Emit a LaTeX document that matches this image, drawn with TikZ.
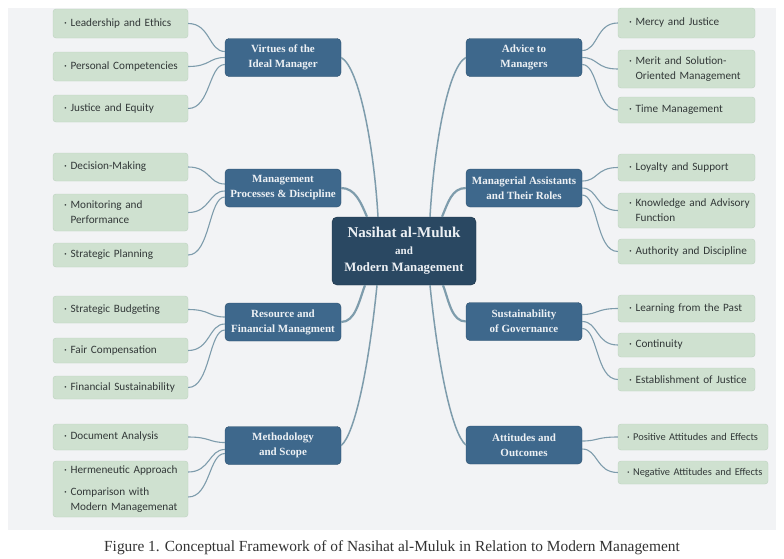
\documentclass[tikz,border=0pt]{standalone}
\usepackage{fontspec}
\setmainfont{Liberation Serif}
\newfontfamily\leaffont{Carlito}

\definecolor{panelgray}{RGB}{242,243,245}
\definecolor{leafgreen}{RGB}{207,225,208}
\definecolor{leafborder}{RGB}{189,210,191}
\definecolor{leaftext}{RGB}{50,56,56}
\definecolor{catblue}{RGB}{62,104,140}
\definecolor{catborder}{RGB}{44,80,110}
\definecolor{cattext}{RGB}{236,240,244}
\definecolor{hubblue}{RGB}{42,72,98}
\definecolor{hubborder}{RGB}{28,50,70}
\definecolor{linkgray}{RGB}{126,156,172}

% bullet and continuation line inside a leaf box
\newcommand{\leafbullet}{\hspace*{7pt}·\ }
\newcommand{\leafcont}{\hspace*{7pt}\phantom{·\ }}

\begin{document}
\begin{tikzpicture}[x=1pt, y=-1pt,
    leaf/.style={draw=leafborder, fill=leafgreen, rounded corners=3pt, text=leaftext,
      font={\leaffont\fontsize{11.2}{15}\selectfont\hyphenpenalty=10000},
      align=left, text width=#1, inner xsep=4pt, inner ysep=3pt, minimum height=26pt},
    leaf/.default=127pt,
    smallleaf/.style={leaf=#1, inner xsep=2pt,
      font={\leaffont\fontsize{10.4}{15}\selectfont\hyphenpenalty=10000}},
    cat/.style={draw=catborder, fill=catblue, rounded corners=4pt, text=cattext,
      font={\bfseries\fontsize{11}{15}\selectfont}, align=center,
      minimum width=116pt, minimum height=38pt, inner sep=2pt},
    hub/.style={draw=hubborder, fill=hubblue, rounded corners=5pt, text=cattext,
      font={\bfseries\fontsize{12.8}{17}\selectfont}, align=center,
      minimum width=144pt, minimum height=68pt, inner sep=2pt},
    twig/.style={draw=linkgray, line width=1.1pt},
    trunk/.style={draw=linkgray, line width=#1},
    trunk/.default=1.5pt]

  % page and panel
  \useasboundingbox (0, 0) rectangle (784, 558);
  \fill[white] (0, 0) rectangle (784, 558);
  \fill[panelgray] (8, 8) rectangle (776, 530);

  % hub
  \node[hub] (nasihat) at (404, 251) {{\fontsize{15}{17}\selectfont Nasihat al-Muluk}\\
    {\fontsize{11}{17}\selectfont and}\\
    Modern Management};

  % categories, left
  \node[cat] (vir) at (283, 57.5) {Virtues of the\\Ideal Manager};
  \node[cat] (mpd) at (283, 188) {Management\\Processes \& Discipline};
  \node[cat] (rfm) at (283, 322) {Resource and\\Financial Managment};
  \node[cat] (mas) at (283, 445.5) {Methodology\\and Scope};

  % categories, right
  \node[cat] (adv) at (524, 57.5) {Advice to\\Managers};
  \node[cat] (mar) at (524, 188) {Managerial Assistants\\and Their Roles};
  \node[cat] (sog) at (524, 321.5) {Sustainability\\of Governance};
  \node[cat] (ato) at (524, 445) {Attitudes and\\Outcomes};

  % leaves, left
  \node[leaf, minimum height=29pt] (lea) at (120.5, 23.5) {\leafbullet Leadership and Ethics};
  \node[leaf, minimum height=29pt] (per) at (120.5, 66.5) {\leafbullet Personal Competencies};
  \node[leaf, minimum height=27pt] (jus) at (120.5, 108.5) {\leafbullet Justice and Equity};
  \node[leaf, minimum height=28pt] (dec) at (120.5, 167) {\leafbullet Decision-Making};
  \node[leaf, minimum height=37pt] (mon) at (120.5, 212.5) {\leafbullet Monitoring and\\\leafcont Performance};
  \node[leaf, minimum height=24pt] (spl) at (120.5, 255) {\leafbullet Strategic Planning};
  \node[leaf, minimum height=27pt] (bud) at (120.5, 309.5) {\leafbullet Strategic Budgeting};
  \node[leaf, minimum height=25pt] (fco) at (120.5, 350.5) {\leafbullet Fair Compensation};
  \node[leaf, minimum height=23pt] (fsu) at (120.5, 387.5) {\leafbullet Financial Sustainability};
  \node[leaf, minimum height=26pt] (doc) at (120.5, 437) {\leafbullet Document Analysis};
  \node[leaf, minimum height=56pt] (her) at (120.5, 489) {\leafbullet Hermeneutic Approach\\[7pt]\leafbullet Comparison with\\\leafcont Modern Managemenat};

  % leaves, right
  \node[leaf=129pt, minimum height=30pt] (mer) at (686.5, 23) {\leafbullet Mercy and Justice};
  \node[leaf=129pt, minimum height=38pt] (mso) at (686.5, 69) {\leafbullet Merit and Solution-\\\leafcont Oriented Management};
  \node[leaf=129pt, minimum height=26pt] (tim) at (686.5, 110) {\leafbullet Time Management};
  \node[leaf=129pt, minimum height=27pt] (loy) at (686.5, 167.5) {\leafbullet Loyalty and Support};
  \node[leaf=129pt, minimum height=35pt] (kad) at (686.5, 210.5) {\leafbullet Knowledge and Advisory\\\leafcont Function};
  \node[leaf=129pt, minimum height=25pt] (aud) at (686.5, 251.5) {\leafbullet Authority and Discipline};
  \node[leaf=129pt, minimum height=27pt] (lfp) at (686.5, 308.5) {\leafbullet Learning from the Past};
  \node[leaf=129pt, minimum height=24pt] (con) at (686.5, 345) {\leafbullet Continuity};
  \node[leaf=129pt, minimum height=23pt] (eoj) at (686.5, 379.5) {\leafbullet Establishment of Justice};
  \node[smallleaf=146pt, minimum height=26pt] (pos) at (693, 437) {\leafbullet Positive Attitudes and Effects};
  \node[smallleaf=146pt, minimum height=23pt] (neg) at (693, 472.5) {\leafbullet Negative Attitudes and Effects};

  % trunks from the hub
  \path[trunk] ([xshift=-26pt]nasihat.north) .. controls +(-4, -70) and +(18, 10) .. (vir.east);
  \path[trunk=2.2pt] ([xshift=-37pt]nasihat.north) .. controls +(-6, -14) and +(14, 0) .. (mpd.east);
  \path[trunk] ([xshift=26pt]nasihat.north) .. controls +(4, -70) and +(-18, 10) .. (adv.west);
  \path[trunk=2.2pt] ([xshift=38pt]nasihat.north) .. controls +(6, -14) and +(-14, 0) .. (mar.west);
  \path[trunk=2.2pt] ([xshift=-39pt]nasihat.south) .. controls +(-6, 16) and +(14, 0) .. (rfm.east);
  \path[trunk] ([xshift=-27pt]nasihat.south) .. controls +(-8, 80) and +(14, -12) .. (mas.east);
  \path[trunk=2.2pt] ([xshift=39pt]nasihat.south) .. controls +(6, 16) and +(-14, 0) .. (sog.west);
  \path[trunk] ([xshift=26pt]nasihat.south) .. controls +(8, 80) and +(-14, -12) .. (ato.west);

  % twigs, left
  \foreach \leafname/\dy in {lea/6, per/0, jus/-7} {
    \path[twig] (\leafname.east) .. controls +(22, 0) and +(-16, 0) .. ([yshift=\dy pt]vir.west);
  }
  \foreach \leafname/\dy in {dec/4, mon/-3, spl/-9} {
    \path[twig] (\leafname.east) .. controls +(22, 0) and +(-16, 0) .. ([yshift=\dy pt]mpd.west);
  }
  \foreach \leafname/\dy in {bud/5, fco/-2, fsu/-8} {
    \path[twig] (\leafname.east) .. controls +(22, 0) and +(-16, 0) .. ([yshift=\dy pt]rfm.west);
  }
  \path[twig] (doc.east) .. controls +(22, 0) and +(-16, 0) .. ([yshift=3pt]mas.west);
  \path[twig] ([yshift=17pt]her.east) .. controls +(22, 0) and +(-16, 0) .. ([yshift=-4pt]mas.west);
  \path[twig] ([yshift=-8pt]her.east) .. controls +(22, 0) and +(-16, 0) .. ([yshift=-8pt]mas.west);

  % twigs, right
  \foreach \leafname/\dy in {mer/7, mso/0, tim/-7} {
    \path[twig] ([yshift=\dy pt]adv.east) .. controls +(16, 0) and +(-22, 0) .. (\leafname.west);
  }
  \foreach \leafname/\dy in {loy/7, kad/0, aud/-7} {
    \path[twig] ([yshift=\dy pt]mar.east) .. controls +(16, 0) and +(-22, 0) .. (\leafname.west);
  }
  \foreach \leafname/\dy in {lfp/7, con/0, eoj/-7} {
    \path[twig] ([yshift=\dy pt]sog.east) .. controls +(16, 0) and +(-22, 0) .. (\leafname.west);
  }
  \foreach \leafname/\dy in {pos/4, neg/-4} {
    \path[twig] ([yshift=\dy pt]ato.east) .. controls +(16, 0) and +(-22, 0) .. (\leafname.west);
  }

  % caption
  \node[font={\fontsize{15.4}{18}\selectfont}, text=black!80] (caption) at (392, 548)
    {Figure 1. Conceptual Framework of of Nasihat al-Muluk in Relation to Modern Management};
\end{tikzpicture}
\end{document}
